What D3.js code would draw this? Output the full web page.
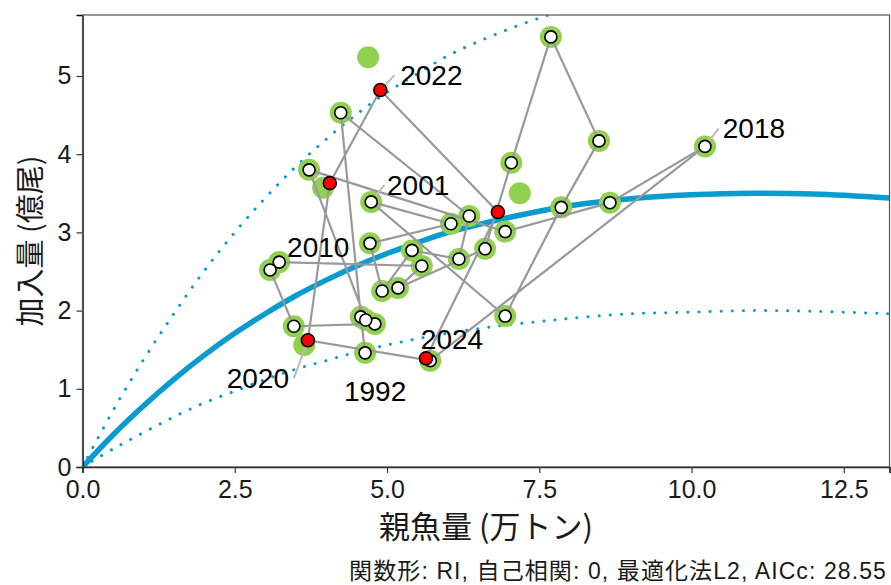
<!DOCTYPE html>
<html>
<head>
<meta charset="utf-8">
<script src="https://cdn.jsdelivr.net/npm/d3@7"></script>
<style>
  body { margin: 0; background: #fff; }
  text { font-family: "Liberation Sans", Arial, "Noto Sans CJK JP", sans-serif; }
  .jp { font-family: "Noto Sans CJK JP", sans-serif; }
</style>
</head>
<body>
<div id="chart"></div>
<script>
// 年ごとの親魚量 (万トン) と加入量 (億尾)
const years = [1992, 1993, 1994, 1995, 1996, 1997, 1998, 1999, 2000, 2001,
  2002, 2003, 2004, 2005, 2006, 2007, 2008, 2009, 2010, 2011,
  2012, 2013, 2014, 2015, 2016, 2017, 2018, 2019, 2020, 2021,
  2022, 2023, 2024];
const ssb = [4.64, 4.57, 4.24, 6.35, 6.18, 5.41, 4.92, 4.72, 6.05, 4.74,
  6.94, 7.86, 8.48, 7.69, 7.04, 6.61, 5.18, 5.57, 3.23, 3.08,
  3.47, 4.80, 4.65, 3.72, 6.94, 8.66, 10.22, 5.71, 3.70, 4.06,
  4.89, 6.82, 5.64];
const rec = [1.46, 1.92, 4.53, 3.21, 2.66, 2.77, 2.25, 2.86, 3.11, 3.39,
  1.93, 3.32, 4.17, 5.50, 3.89, 2.79, 2.29, 2.57, 2.62, 2.52,
  1.80, 1.83, 1.88, 3.80, 3.01, 3.38, 4.10, 1.36, 1.62, 3.63,
  4.82, 3.26, 1.39];

// 再生産関係の推定に使ったデータ (緑)
const fitYears = years.slice(0, 32);
const fitSsb = [4.64, 4.57, 4.24, 6.35, 6.18, 5.41, 4.92, 4.72, 6.05, 4.74,
  6.94, 7.86, 8.48, 7.69, 7.04, 6.61, 5.18, 5.57, 3.23, 3.08,
  3.47, 4.80, 4.65, 3.72, 6.94, 8.66, 10.22, 5.71, 3.64, 3.95,
  4.69, 7.18];
const fitRec = [1.46, 1.92, 4.53, 3.21, 2.66, 2.77, 2.25, 2.86, 3.11, 3.39,
  1.93, 3.32, 4.17, 5.50, 3.89, 2.79, 2.29, 2.57, 2.62, 2.52,
  1.80, 1.83, 1.88, 3.80, 3.01, 3.38, 4.10, 1.36, 1.56, 3.57,
  5.24, 3.50];

// 再生産関係の曲線と90%区間
const curveSsb = [0, 0.5, 1, 1.5, 2, 2.5, 3, 3.5, 4, 4.5, 5, 5.5, 6, 6.5, 7, 7.5, 8, 9, 10, 11, 12, 13.25];
const curveRec = [0, 0.41, 0.78, 1.12, 1.43, 1.71, 1.96, 2.19, 2.39, 2.57, 2.73, 2.87, 3.00, 3.10, 3.19, 3.27, 3.34, 3.43, 3.48, 3.50, 3.49, 3.44];
const curveUpper = [0, 0.72, 1.37, 1.96, 2.51, 3.00, 3.44, 3.84, 4.19, 4.51, 4.79, 5.03, 5.26, 5.44, 5.60, 5.74, 5.86, 6.02, 6.10, 6.14, 6.12, 6.03];
const curveLower = [0, 0.23, 0.44, 0.64, 0.82, 0.97, 1.12, 1.25, 1.36, 1.47, 1.56, 1.64, 1.71, 1.77, 1.82, 1.86, 1.90, 1.96, 1.98, 2.00, 1.99, 1.96];

const recentYears = [2020, 2021, 2022, 2023, 2024];
const labelYears = [1992, 2001, 2010, 2018, 2020, 2022, 2024];
const xTicks = [0, 2.5, 5, 7.5, 10, 12.5];
const yTicks = [0, 1, 2, 3, 4, 5];

// ラベルの位置 (点からのずらし, px)
const labelPos = {
  1992: { dx: 10, dy: 38, leader: false },
  2001: { dx: 47, dy: -17, leader: true },
  2010: { dx: 39, dy: -15, leader: false },
  2018: { dx: 49, dy: -18, leader: true },
  2020: { dx: -50, dy: 38, leader: true },
  2022: { dx: 51, dy: -15, leader: true },
  2024: { dx: 26, dy: -19, leader: false }
};

const width = 891, height = 585;
const margin = { top: 15, right: 1.5, bottom: 118, left: 82.5 };

const svg = d3.select("#chart").append("svg")
  .attr("width", width)
  .attr("height", height);

const x = d3.scaleLinear().domain([0, 13.25]).range([margin.left, width - margin.right]);
const y = d3.scaleLinear().domain([0, 5.78]).range([height - margin.bottom, margin.top]);

svg.append("clipPath").attr("id", "panel")
  .append("rect")
  .attr("x", margin.left).attr("y", margin.top)
  .attr("width", width - margin.right - margin.left)
  .attr("height", height - margin.bottom - margin.top);

const blue = "#0a9bd0";
const curve = curveSsb.map((s, i) => ({ s: s, r: curveRec[i], up: curveUpper[i], lo: curveLower[i] }));
const plot = svg.append("g").attr("clip-path", "url(#panel)");

const line = key => d3.line().x(d => x(d.s)).y(d => y(d[key])).curve(d3.curveCatmullRom);

plot.append("path").datum(curve)
  .attr("d", line("up"))
  .attr("fill", "none").attr("stroke", blue)
  .attr("stroke-width", 3).attr("stroke-linecap", "round")
  .attr("stroke-dasharray", "0.1 11");
plot.append("path").datum(curve)
  .attr("d", line("lo"))
  .attr("fill", "none").attr("stroke", blue)
  .attr("stroke-width", 3).attr("stroke-linecap", "round")
  .attr("stroke-dasharray", "0.1 11");
plot.append("path").datum(curve)
  .attr("d", line("r"))
  .attr("fill", "none").attr("stroke", blue)
  .attr("stroke-width", 5.5);

const pts = years.map((yr, i) => ({ year: yr, s: ssb[i], r: rec[i] }));
const fitPts = fitYears.map((yr, i) => ({ year: yr, s: fitSsb[i], r: fitRec[i] }));

// 緑の点
plot.selectAll("circle.fit")
  .data(fitPts)
  .join("circle")
  .attr("class", "fit")
  .attr("cx", d => x(d.s)).attr("cy", d => y(d.r))
  .attr("r", 11)
  .attr("fill", "#92d050");

// 年をつなぐ線
plot.append("path").datum(pts)
  .attr("d", d3.line().x(d => x(d.s)).y(d => y(d.r)))
  .attr("fill", "none").attr("stroke", "#999")
  .attr("stroke-width", 2.2);

// ラベルの引き出し線
const labelled = pts.filter(d => labelYears.includes(d.year));
plot.selectAll("line.leader")
  .data(labelled.filter(d => labelPos[d.year].leader))
  .join("line")
  .attr("class", "leader")
  .attr("x1", d => x(d.s)).attr("y1", d => y(d.r))
  .attr("x2", d => x(d.s) + labelPos[d.year].dx * 0.28)
  .attr("y2", d => y(d.r) + labelPos[d.year].dy * 1.0)
  .attr("stroke", "#bbb").attr("stroke-width", 2);

plot.selectAll("circle.pt")
  .data(pts)
  .join("circle")
  .attr("class", "pt")
  .attr("cx", d => x(d.s)).attr("cy", d => y(d.r))
  .attr("r", d => recentYears.includes(d.year) ? 6.5 : 6)
  .attr("fill", d => recentYears.includes(d.year) ? "#ff0000" : "#fff")
  .attr("stroke", "#000").attr("stroke-width", 1.6);

svg.selectAll("text.yr")
  .data(labelled)
  .join("text")
  .attr("class", "yr")
  .attr("x", d => x(d.s) + labelPos[d.year].dx)
  .attr("y", d => y(d.r) + labelPos[d.year].dy)
  .attr("text-anchor", "middle")
  .attr("dy", "0.36em")
  .attr("font-size", 28)
  .attr("fill", "#000")
  .text(d => d.year);

// 軸
const xAxis = svg.append("g")
  .attr("transform", `translate(0,${height - margin.bottom})`)
  .call(d3.axisBottom(x).tickValues(xTicks).tickFormat(d3.format(".1f")).tickSize(6).tickPadding(7));
const yAxis = svg.append("g")
  .attr("transform", `translate(${margin.left},0)`)
  .call(d3.axisLeft(y).tickValues(yTicks).tickFormat(d3.format("d")).tickSize(6).tickPadding(5));
[xAxis, yAxis].forEach(g => {
  g.selectAll("text").attr("font-size", 25).attr("fill", "#1a1a1a")
    .attr("font-family", "'Liberation Sans', Arial, sans-serif");
  g.selectAll(".tick line").attr("stroke", "#333").attr("stroke-width", 1.2);
  g.select(".domain").attr("stroke", "#000").attr("stroke-width", 1.5);
});

// 枠
svg.append("rect")
  .attr("x", margin.left).attr("y", margin.top)
  .attr("width", width - margin.right - margin.left)
  .attr("height", height - margin.bottom - margin.top)
  .attr("fill", "none").attr("stroke", "#555").attr("stroke-width", 1.2);

svg.append("text")
  .attr("class", "jp")
  .attr("x", (margin.left + width - margin.right) / 2)
  .attr("y", 538)
  .attr("text-anchor", "middle")
  .attr("font-size", 31)
  .attr("fill", "#1a1a1a")
  .text("親魚量 (万トン)");

svg.append("text")
  .attr("class", "jp")
  .attr("transform", `translate(41,${(margin.top + height - margin.bottom) / 2}) rotate(-90)`)
  .attr("text-anchor", "middle")
  .attr("font-size", 29)
  .attr("fill", "#1a1a1a")
  .text("加入量 (億尾)");

svg.append("text")
  .attr("x", 887)
  .attr("y", 579)
  .attr("text-anchor", "end")
  .attr("font-size", 23)
  .attr("letter-spacing", 1.1)
  .attr("fill", "#1a1a1a")
  .text("関数形: RI, 自己相関: 0, 最適化法L2, AICc: 28.55");
</script>
</body>
</html>
